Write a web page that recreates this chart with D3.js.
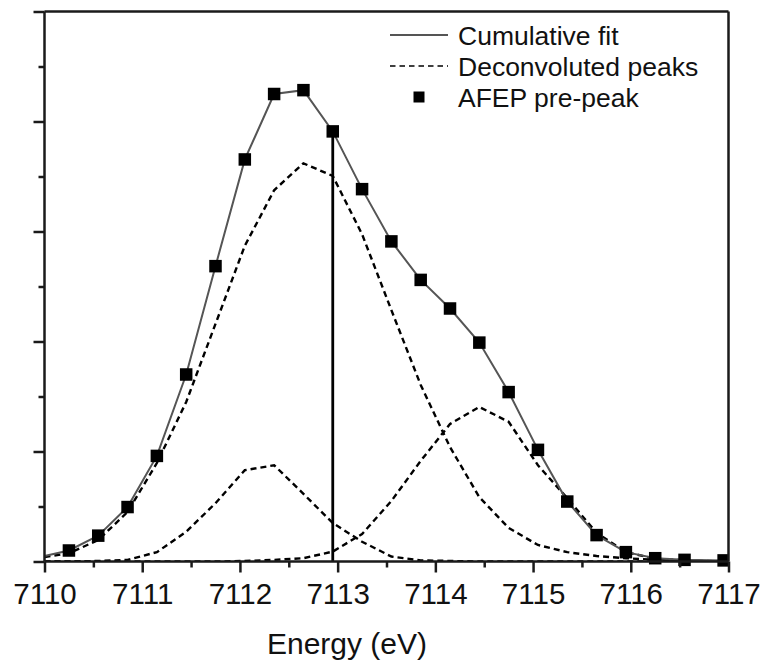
<!DOCTYPE html>
<html>
<head>
<meta charset="utf-8">
<script src="https://cdn.jsdelivr.net/npm/d3@7"></script>
<style>
  html, body { margin: 0; padding: 0; background: #fff; }
  svg { display: block; }
  text { font-family: "Liberation Sans", Arial, sans-serif; fill: #111; }
</style>
</head>
<body>
<svg id="chart" width="767" height="661"></svg>
<script>
// Measured pre-edge points (AFEP pre-peak), normalised intensity
const energy = [7110.25, 7110.55, 7110.85, 7111.15, 7111.45, 7111.75, 7112.05, 7112.35,
  7112.65, 7112.95, 7113.25, 7113.55, 7113.85, 7114.15, 7114.45, 7114.75, 7115.05,
  7115.35, 7115.65, 7115.95, 7116.25, 7116.55, 7116.95];
const prePeak = [0.020, 0.047, 0.099, 0.192, 0.340, 0.537, 0.731, 0.850,
  0.857, 0.782, 0.677, 0.582, 0.512, 0.460, 0.398, 0.308, 0.203,
  0.109, 0.048, 0.017, 0.006, 0.003, 0.002];

// Fit grid and fitted components
const fitEnergy = [7110.00, 7110.25, 7110.55, 7110.85, 7111.15, 7111.45, 7111.75, 7112.05,
  7112.35, 7112.65, 7112.95, 7113.25, 7113.55, 7113.85, 7114.15, 7114.45, 7114.75,
  7115.05, 7115.35, 7115.65, 7115.95, 7116.25, 7116.55, 7116.95];
const cumulativeFit = [0.010, 0.020, 0.047, 0.099, 0.192, 0.340, 0.537, 0.731,
  0.850, 0.857, 0.782, 0.677, 0.582, 0.512, 0.460, 0.398, 0.308,
  0.203, 0.109, 0.048, 0.017, 0.006, 0.003, 0.002];
const peakA = [0.000, 0.000, 0.001, 0.003, 0.017, 0.054, 0.106, 0.166,
  0.175, 0.123, 0.070, 0.036, 0.009, 0.002, 0.001, 0.000, 0.000,
  0.000, 0.000, 0.000, 0.000, 0.000, 0.000, 0.000];
const peakB = [0.008, 0.015, 0.039, 0.090, 0.179, 0.290, 0.432, 0.574,
  0.675, 0.724, 0.701, 0.595, 0.457, 0.321, 0.208, 0.117, 0.061,
  0.030, 0.017, 0.010, 0.006, 0.003, 0.001, 0.000];
const peakC = [0.000, 0.000, 0.000, 0.000, 0.000, 0.000, 0.000, 0.001,
  0.003, 0.006, 0.018, 0.050, 0.110, 0.183, 0.250, 0.281, 0.254,
  0.175, 0.115, 0.052, 0.017, 0.005, 0.002, 0.000];

// Marked edge position (vertical line)
const markerEnergy = 7112.95;
const markerValue = 0.782;

// Axis ticks
const xMajorTicks = [7110, 7111, 7112, 7113, 7114, 7115, 7116, 7117];
const xMinorTicks = [7110.5, 7111.5, 7112.5, 7113.5, 7114.5, 7115.5, 7116.5];
const yMajorTicks = [0, 0.2, 0.4, 0.6, 0.8, 1.0];
const yMinorTicks = [0.1, 0.3, 0.5, 0.7, 0.9];

const legendItems = ["Cumulative fit", "Deconvoluted peaks", "AFEP pre-peak"];

const svg = d3.select("#chart");
const mLeft = 44.5, mRight = 728.5, mTop = 11.5, mBottom = 561.5;

const x = d3.scaleLinear().domain([7110, 7117]).range([mLeft, mRight]);
const y = d3.scaleLinear().domain([0, 1]).range([mBottom, mTop]);

const axisColor = "#1a1a1a";
const axisWidth = 2.5;

// clip for plotted curves
svg.append("defs").append("clipPath").attr("id", "plotClip")
  .append("rect").attr("x", mLeft).attr("y", mTop - 8).attr("width", mRight - mLeft).attr("height", mBottom - mTop + 8);

const plot = svg.append("g").attr("clip-path", "url(#plotClip)");

const line = d3.line().x(d => x(d[0])).y(d => y(d[1]));

// Deconvoluted components
[peakA, peakB, peakC].forEach(p => {
  plot.append("path")
    .datum(fitEnergy.map((e, i) => [e, p[i]]))
    .attr("d", line)
    .attr("fill", "none")
    .attr("stroke", "#000")
    .attr("stroke-width", 2.4)
    .attr("stroke-dasharray", "6,4");
});

// Cumulative fit
plot.append("path")
  .datum(fitEnergy.map((e, i) => [e, cumulativeFit[i]]))
  .attr("d", line)
  .attr("fill", "none")
  .attr("stroke", "#555")
  .attr("stroke-width", 2);

// Vertical marker line
svg.append("line")
  .attr("x1", x(markerEnergy)).attr("x2", x(markerEnergy))
  .attr("y1", y(markerValue)).attr("y2", y(0))
  .attr("stroke", "#000").attr("stroke-width", 2.8);

// Data points
const sq = 12.5;
svg.append("g").selectAll("rect")
  .data(energy.map((e, i) => [e, prePeak[i]]))
  .join("rect")
  .attr("x", d => x(d[0]) - sq / 2)
  .attr("y", d => y(d[1]) - sq / 2)
  .attr("width", d => Math.min(sq, mRight - (x(d[0]) - sq / 2)))
  .attr("height", sq)
  .attr("fill", "#000");

// Axes
function styleAxis(g) {
  g.selectAll(".domain").remove();
  g.selectAll(".tick line").attr("stroke", axisColor).attr("stroke-width", axisWidth);
}

const gx = svg.append("g").attr("transform", `translate(0,${mBottom})`)
  .call(d3.axisBottom(x).tickValues(xMajorTicks).tickSize(11).tickFormat(d3.format("d")))
  .call(styleAxis);
gx.selectAll(".tick text")
  .attr("y", 0).attr("dy", 0)
  .attr("transform", "translate(0,42.5)")
  .style("font-size", "29.5px")
  .attr("fill", "#111");

svg.append("g").attr("transform", `translate(0,${mBottom})`)
  .call(d3.axisBottom(x).tickValues(xMinorTicks).tickSize(6).tickFormat(""))
  .call(styleAxis);

svg.append("g").attr("transform", `translate(${mLeft},0)`)
  .call(d3.axisLeft(y).tickValues(yMajorTicks).tickSize(11).tickFormat(""))
  .call(styleAxis);
svg.append("g").attr("transform", `translate(${mLeft},0)`)
  .call(d3.axisLeft(y).tickValues(yMinorTicks).tickSize(6).tickFormat(""))
  .call(styleAxis);

// Frame
const frame = svg.append("g").attr("stroke", axisColor).attr("stroke-width", axisWidth).attr("fill", "none");
frame.append("line").attr("x1", mLeft).attr("x2", mLeft).attr("y1", mTop).attr("y2", mBottom);
frame.append("line").attr("x1", mLeft).attr("x2", mRight).attr("y1", mBottom).attr("y2", mBottom);
frame.append("line").attr("x1", mLeft).attr("x2", mRight).attr("y1", mTop).attr("y2", mTop);
frame.append("line").attr("x1", mRight).attr("x2", mRight).attr("y1", mTop).attr("y2", mBottom);

// Axis title
svg.append("text")
  .attr("x", 347).attr("y", 654)
  .attr("text-anchor", "middle")
  .style("font-size", "30px")
  .text("Energy (eV)");

// Legend
const lg = svg.append("g");
const lx0 = 390, lx1 = 448, tx = 458;
const rowY = [35, 66, 97];
lg.append("line").attr("x1", lx0).attr("x2", lx1).attr("y1", rowY[0]).attr("y2", rowY[0])
  .attr("stroke", "#555").attr("stroke-width", 2);
lg.append("line").attr("x1", lx0).attr("x2", lx1).attr("y1", rowY[1]).attr("y2", rowY[1])
  .attr("stroke", "#000").attr("stroke-width", 1.6).attr("stroke-dasharray", "5.5,4");
lg.append("rect").attr("x", 419 - 5.5).attr("y", rowY[2] - 5.5).attr("width", 11).attr("height", 11)
  .attr("fill", "#000");
lg.selectAll("text.leg").data(legendItems).join("text")
  .attr("class", "leg")
  .attr("x", tx)
  .attr("y", (d, i) => rowY[i] + 10)
  .style("font-size", "26.5px")
  .text(d => d);
</script>
</body>
</html>
